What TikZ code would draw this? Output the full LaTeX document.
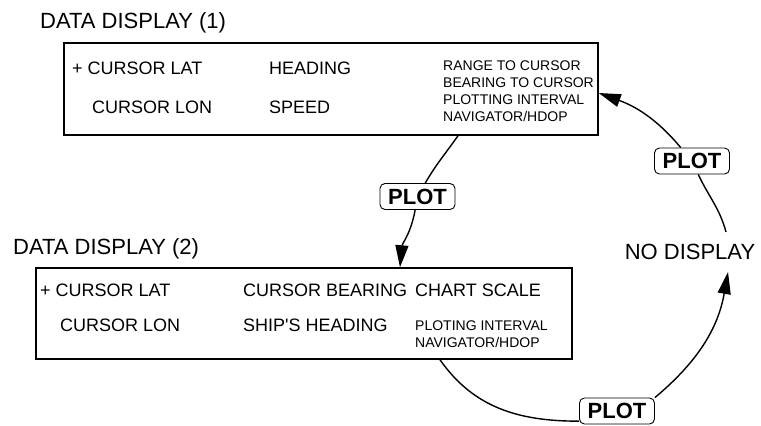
\documentclass[tikz,border=0pt]{standalone}
\usepackage{fontspec}
\setmainfont{Liberation Sans}
\usetikzlibrary{arrows.meta}

\begin{document}
\begin{tikzpicture}[
  x=1pt, y=1pt,
  panel/.style={draw,rectangle,line width=1.5pt,inner sep=0pt},
  ttl/.style={inner sep=0pt,anchor=base west,font=\fontsize{22}{24}\selectfont},
  item/.style={inner sep=0pt,anchor=base west,font=\fontsize{18}{20}\selectfont},
  tiny/.style={inner sep=0pt,anchor=base west,font=\fontsize{14}{16}\selectfont},
  plotkey/.style={draw,line width=0.9pt,rounded corners=5pt,inner sep=0pt,minimum width=75pt,minimum height=26pt,font=\fontsize{22}{24}\selectfont\bfseries},
  link/.style={line width=1.4pt},
  >={Triangle[length=22pt,width=13pt]}
]
\useasboundingbox (0,0) rectangle (761,-426);

% Boxes
\node[panel, minimum width=534pt, minimum height=92pt] (d1) at (331,-89) {};
\node[panel, minimum width=536pt, minimum height=91pt] (d2) at (304,-313.5) {};

% Titles
\node[ttl] (t1) at (40,-28) {DATA DISPLAY (1)};
\node[ttl] (t2) at (13,-254) {DATA DISPLAY (2)};

% Data display (1)
\node[item] (lat1) at (72,-74.5) {+ CURSOR LAT};
\node[item] (lon1) at (92,-113.5) {CURSOR LON};
\node[item] (hdg1) at (269,-74.5) {HEADING};
\node[item] (spd1) at (269,-113.5) {SPEED};
\node[tiny] (rng1) at (443,-70) {RANGE TO CURSOR};
\node[tiny] (brg1) at (443,-87) {BEARING TO CURSOR};
\node[tiny] (int1) at (443,-104) {PLOTTING INTERVAL};
\node[tiny] (nav1) at (443,-121) {NAVIGATOR/HDOP};

% Data display (2)
\node[item] (lat2) at (40,-296.5) {+ CURSOR LAT};
\node[item] (lon2) at (60,-331.5) {CURSOR LON};
\node[item] (brg2) at (243,-296.5) {CURSOR BEARING};
\node[item] (shp2) at (243,-331.5) {SHIP\textquotesingle S HEADING};
\node[item] (scl2) at (415,-296.5) {CHART SCALE};
\node[tiny] (int2) at (415,-330) {PLOTING INTERVAL};
\node[tiny] (nav2) at (415,-347) {NAVIGATOR/HDOP};

% No display
\node[inner xsep=0pt, inner ysep=12pt, font=\fontsize{22}{24}\selectfont] (nod) at (690,-252) {NO DISPLAY};

% PLOT keys
\node[plotkey] (plotA) at (417.5,-196.5) {PLOT};
\node[plotkey] (plotB) at (692,-161) {PLOT};
\node[plotkey] (plotC) at (617,-411) {PLOT};

% Connections
\draw[link] ([xshift=127pt]d1.south) to[out=235, in=60] (plotA);
\draw[link, ->] (plotA) to[out=260, in=85] ([xshift=96pt]d2.north);
\draw[link] ([xshift=136pt]d2.south) to[out=305, in=180] (plotC.195);
\draw[link, ->] (plotC.north east) to[out=40, in=260] ([xshift=38pt]nod.south);
\draw[link] ([xshift=36pt]nod.north) to[out=105, in=295] (plotB);
\draw[link, ->] (plotB) to[out=130, in=340] ([yshift=-4pt]d1.east);

\end{tikzpicture}
\end{document}
